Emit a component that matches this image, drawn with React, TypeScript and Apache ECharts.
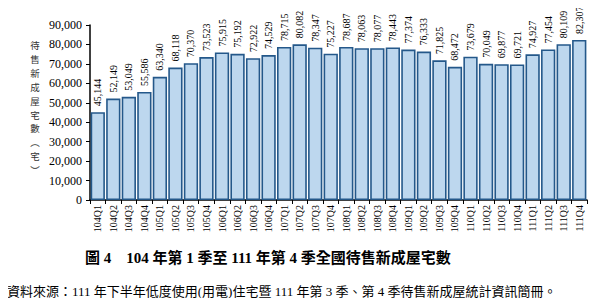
import React, { useEffect, useRef } from "react";
import * as echarts from "echarts";

const categories = [
  "104Q1","104Q2","104Q3","104Q4",
  "105Q1","105Q2","105Q3","105Q4",
  "106Q1","106Q2","106Q3","106Q4",
  "107Q1","107Q2","107Q3","107Q4",
  "108Q1","108Q2","108Q3","108Q4",
  "109Q1","109Q2","109Q3","109Q4",
  "110Q1","110Q2","110Q3","110Q4",
  "111Q1","111Q2","111Q3","111Q4",
];
const values = [
  45144, 52149, 53049, 55586,
  63340, 68118, 70370, 73523,
  75915, 75192, 72922, 74529,
  78715, 80082, 78347, 75227,
  78687, 78063, 78077, 78443,
  77374, 76333, 71825, 68472,
  73679, 70049, 69877, 69721,
  74927, 77454, 80109, 82307,
];
const yTitleChars = ["待", "售", "新", "成", "屋", "宅", "數", "︵", "宅", "︶"];
const titleText = "圖 4　104 年第 1 季至 111 年第 4 季全國待售新成屋宅數";
const sourceText = "資料來源：111 年下半年低度使用(用電)住宅暨 111 年第 3 季、第 4 季待售新成屋統計資訊簡冊。";

const SERIF = "'Liberation Serif', 'DejaVu Serif', 'Noto Sans CJK TC', serif";

export default function App() {
  const ref = useRef<HTMLDivElement>(null);
  useEffect(() => {
    if (!ref.current) return;
    const chart = echarts.init(ref.current, null, { renderer: "svg" });
    const titleGraphics = yTitleChars.map((ch, i) => ({
      type: "text",
      x: 35,
      y: 45 + i * 13.9,
      style: {
        text: ch,
        fontFamily: "'Noto Sans CJK TC', sans-serif",
        fontSize: 9.5,
        fill: "#333",
        align: "center",
        verticalAlign: "middle",
      },
    }));
    chart.setOption({
      animation: false,
      backgroundColor: "#ffffff",
      grid: { left: 90, right: 13, top: 25, bottom: 106 },
      xAxis: {
        type: "category",
        data: categories,
        axisLine: { lineStyle: { color: "#000", width: 1.5 } },
        axisTick: { show: true, alignWithLabel: false, length: 4, lineStyle: { color: "#000" } },
        axisLabel: {
          rotate: 90,
          interval: 0,
          fontFamily: SERIF,
          fontSize: 10,
          color: "#000",
          margin: 5,
        },
      },
      yAxis: {
        type: "value",
        min: 0,
        max: 90000,
        interval: 10000,
        axisLine: { show: true, lineStyle: { color: "#000", width: 1.5 } },
        axisTick: { show: true, inside: false, length: 4, lineStyle: { color: "#000" } },
        splitLine: { show: false },
        axisLabel: {
          fontFamily: SERIF,
          fontSize: 12,
          color: "#000",
          margin: 8,
          formatter: (v: number) => v.toLocaleString("en-US"),
        },
      },
      series: [
        {
          type: "bar",
          data: values,
          barCategoryGap: "8%",
          itemStyle: { color: "#bdd7ee", borderColor: "#24588a", borderWidth: 1.6 },
          label: {
            show: true,
            position: "top",
            rotate: 90,
            align: "left",
            verticalAlign: "middle",
            distance: 6,
            fontFamily: SERIF,
            fontSize: 10,
            color: "#000",
            formatter: (p: any) => Number(p.value).toLocaleString("en-US"),
          },
        },
      ],
      graphic: [
        ...titleGraphics,
        {
          type: "text",
          left: 85,
          top: 250,
          style: {
            text: titleText,
            fontFamily: SERIF,
            fontSize: 15,
            fontWeight: "bold",
            fill: "#000",
          },
        },
        {
          type: "text",
          left: 7,
          top: 285,
          style: {
            text: sourceText,
            fontFamily: SERIF,
            fontSize: 13,
            fill: "#000",
          },
        },
      ],
    });
    return () => chart.dispose();
  }, []);
  return <div ref={ref} style={{ width: 600, height: 306, margin: -8 }} />;
}
